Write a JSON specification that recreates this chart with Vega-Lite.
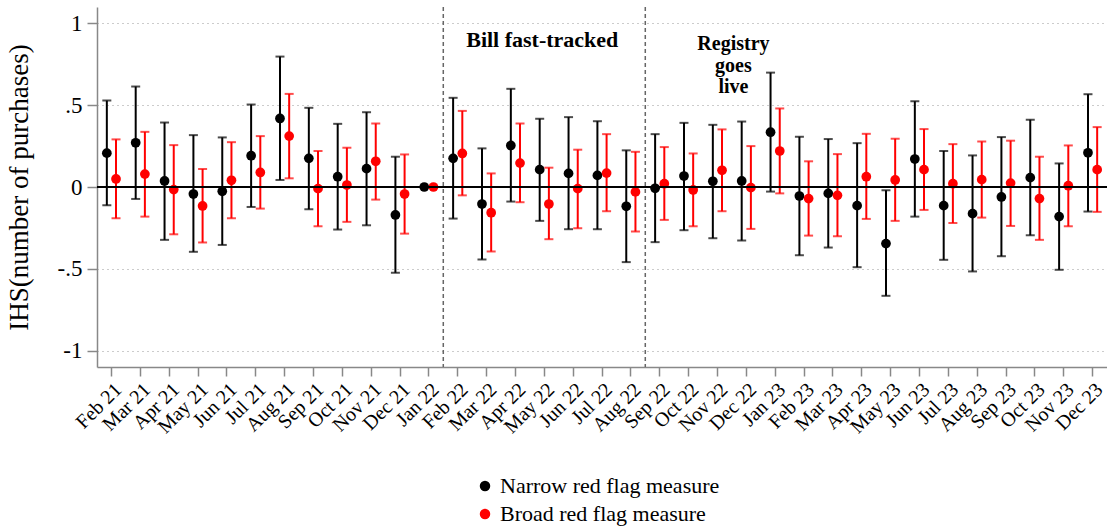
{
  "$schema": "https://vega.github.io/schema/vega-lite/v6.json",
  "width": 1010,
  "height": 360,
  "autosize": {"type": "none"},
  "padding": {"left": 97, "top": 7, "right": 0, "bottom": 162},
  "background": "white",
  "config": {"view": {"stroke": null}, "font": "Liberation Serif"},
  "datasets": {
    "est": [
      {"m": "Feb 21", "s": "Narrow red flag measure", "v": 0.207, "lo": -0.112, "hi": 0.528},
      {"m": "Feb 21", "s": "Broad red flag measure", "v": 0.049, "lo": -0.191, "hi": 0.291},
      {"m": "Mar 21", "s": "Narrow red flag measure", "v": 0.270, "lo": -0.073, "hi": 0.614},
      {"m": "Mar 21", "s": "Broad red flag measure", "v": 0.079, "lo": -0.181, "hi": 0.337},
      {"m": "Apr 21", "s": "Narrow red flag measure", "v": 0.037, "lo": -0.323, "hi": 0.394},
      {"m": "Apr 21", "s": "Broad red flag measure", "v": -0.016, "lo": -0.289, "hi": 0.256},
      {"m": "May 21", "s": "Narrow red flag measure", "v": -0.043, "lo": -0.396, "hi": 0.317},
      {"m": "May 21", "s": "Broad red flag measure", "v": -0.116, "lo": -0.339, "hi": 0.110},
      {"m": "Jun 21", "s": "Narrow red flag measure", "v": -0.026, "lo": -0.354, "hi": 0.303},
      {"m": "Jun 21", "s": "Broad red flag measure", "v": 0.041, "lo": -0.191, "hi": 0.274},
      {"m": "Jul 21", "s": "Narrow red flag measure", "v": 0.191, "lo": -0.122, "hi": 0.504},
      {"m": "Jul 21", "s": "Broad red flag measure", "v": 0.089, "lo": -0.132, "hi": 0.311},
      {"m": "Aug 21", "s": "Narrow red flag measure", "v": 0.419, "lo": 0.043, "hi": 0.797},
      {"m": "Aug 21", "s": "Broad red flag measure", "v": 0.311, "lo": 0.053, "hi": 0.569},
      {"m": "Sep 21", "s": "Narrow red flag measure", "v": 0.175, "lo": -0.136, "hi": 0.484},
      {"m": "Sep 21", "s": "Broad red flag measure", "v": -0.010, "lo": -0.240, "hi": 0.220},
      {"m": "Oct 21", "s": "Narrow red flag measure", "v": 0.063, "lo": -0.260, "hi": 0.386},
      {"m": "Oct 21", "s": "Broad red flag measure", "v": 0.012, "lo": -0.213, "hi": 0.240},
      {"m": "Nov 21", "s": "Narrow red flag measure", "v": 0.112, "lo": -0.234, "hi": 0.457},
      {"m": "Nov 21", "s": "Broad red flag measure", "v": 0.157, "lo": -0.077, "hi": 0.388},
      {"m": "Dec 21", "s": "Narrow red flag measure", "v": -0.171, "lo": -0.524, "hi": 0.185},
      {"m": "Dec 21", "s": "Broad red flag measure", "v": -0.043, "lo": -0.285, "hi": 0.199},
      {"m": "Jan 22", "s": "Narrow red flag measure", "v": 0, "lo": null, "hi": null},
      {"m": "Jan 22", "s": "Broad red flag measure", "v": 0, "lo": null, "hi": null},
      {"m": "Feb 22", "s": "Narrow red flag measure", "v": 0.175, "lo": -0.193, "hi": 0.545},
      {"m": "Feb 22", "s": "Broad red flag measure", "v": 0.205, "lo": -0.051, "hi": 0.465},
      {"m": "Mar 22", "s": "Narrow red flag measure", "v": -0.104, "lo": -0.443, "hi": 0.236},
      {"m": "Mar 22", "s": "Broad red flag measure", "v": -0.157, "lo": -0.394, "hi": 0.083},
      {"m": "Apr 22", "s": "Narrow red flag measure", "v": 0.254, "lo": -0.089, "hi": 0.600},
      {"m": "Apr 22", "s": "Broad red flag measure", "v": 0.146, "lo": -0.093, "hi": 0.388},
      {"m": "May 22", "s": "Narrow red flag measure", "v": 0.106, "lo": -0.207, "hi": 0.417},
      {"m": "May 22", "s": "Broad red flag measure", "v": -0.104, "lo": -0.319, "hi": 0.118},
      {"m": "Jun 22", "s": "Narrow red flag measure", "v": 0.083, "lo": -0.258, "hi": 0.427},
      {"m": "Jun 22", "s": "Broad red flag measure", "v": -0.010, "lo": -0.252, "hi": 0.228},
      {"m": "Jul 22", "s": "Narrow red flag measure", "v": 0.071, "lo": -0.258, "hi": 0.402},
      {"m": "Jul 22", "s": "Broad red flag measure", "v": 0.085, "lo": -0.148, "hi": 0.323},
      {"m": "Aug 22", "s": "Narrow red flag measure", "v": -0.118, "lo": -0.459, "hi": 0.224},
      {"m": "Aug 22", "s": "Broad red flag measure", "v": -0.030, "lo": -0.272, "hi": 0.215},
      {"m": "Sep 22", "s": "Narrow red flag measure", "v": -0.008, "lo": -0.337, "hi": 0.323},
      {"m": "Sep 22", "s": "Broad red flag measure", "v": 0.020, "lo": -0.201, "hi": 0.244},
      {"m": "Oct 22", "s": "Narrow red flag measure", "v": 0.067, "lo": -0.264, "hi": 0.392},
      {"m": "Oct 22", "s": "Broad red flag measure", "v": -0.018, "lo": -0.240, "hi": 0.205},
      {"m": "Nov 22", "s": "Narrow red flag measure", "v": 0.035, "lo": -0.313, "hi": 0.380},
      {"m": "Nov 22", "s": "Broad red flag measure", "v": 0.102, "lo": -0.148, "hi": 0.352},
      {"m": "Dec 22", "s": "Narrow red flag measure", "v": 0.037, "lo": -0.327, "hi": 0.400},
      {"m": "Dec 22", "s": "Broad red flag measure", "v": -0.004, "lo": -0.256, "hi": 0.250},
      {"m": "Jan 23", "s": "Narrow red flag measure", "v": 0.335, "lo": -0.028, "hi": 0.699},
      {"m": "Jan 23", "s": "Broad red flag measure", "v": 0.220, "lo": -0.039, "hi": 0.480},
      {"m": "Feb 23", "s": "Narrow red flag measure", "v": -0.055, "lo": -0.417, "hi": 0.307},
      {"m": "Feb 23", "s": "Broad red flag measure", "v": -0.071, "lo": -0.297, "hi": 0.157},
      {"m": "Mar 23", "s": "Narrow red flag measure", "v": -0.039, "lo": -0.370, "hi": 0.293},
      {"m": "Mar 23", "s": "Broad red flag measure", "v": -0.051, "lo": -0.301, "hi": 0.201},
      {"m": "Apr 23", "s": "Narrow red flag measure", "v": -0.114, "lo": -0.490, "hi": 0.268},
      {"m": "Apr 23", "s": "Broad red flag measure", "v": 0.063, "lo": -0.195, "hi": 0.325},
      {"m": "May 23", "s": "Narrow red flag measure", "v": -0.346, "lo": -0.665, "hi": -0.020},
      {"m": "May 23", "s": "Broad red flag measure", "v": 0.043, "lo": -0.207, "hi": 0.295},
      {"m": "Jun 23", "s": "Narrow red flag measure", "v": 0.171, "lo": -0.181, "hi": 0.524},
      {"m": "Jun 23", "s": "Broad red flag measure", "v": 0.106, "lo": -0.140, "hi": 0.354},
      {"m": "Jul 23", "s": "Narrow red flag measure", "v": -0.114, "lo": -0.445, "hi": 0.220},
      {"m": "Jul 23", "s": "Broad red flag measure", "v": 0.020, "lo": -0.220, "hi": 0.262},
      {"m": "Aug 23", "s": "Narrow red flag measure", "v": -0.163, "lo": -0.516, "hi": 0.193},
      {"m": "Aug 23", "s": "Broad red flag measure", "v": 0.045, "lo": -0.187, "hi": 0.278},
      {"m": "Sep 23", "s": "Narrow red flag measure", "v": -0.061, "lo": -0.423, "hi": 0.305},
      {"m": "Sep 23", "s": "Broad red flag measure", "v": 0.024, "lo": -0.238, "hi": 0.283},
      {"m": "Oct 23", "s": "Narrow red flag measure", "v": 0.057, "lo": -0.295, "hi": 0.411},
      {"m": "Oct 23", "s": "Broad red flag measure", "v": -0.071, "lo": -0.323, "hi": 0.185},
      {"m": "Nov 23", "s": "Narrow red flag measure", "v": -0.181, "lo": -0.506, "hi": 0.144},
      {"m": "Nov 23", "s": "Broad red flag measure", "v": 0.008, "lo": -0.240, "hi": 0.254},
      {"m": "Dec 23", "s": "Narrow red flag measure", "v": 0.209, "lo": -0.150, "hi": 0.567},
      {"m": "Dec 23", "s": "Broad red flag measure", "v": 0.106, "lo": -0.152, "hi": 0.366}
    ]
  },
  "data": {"name": "est"},
  "layer": [
    {
      "mark": {"type": "point", "filled": true, "shape": "circle", "size": 95, "opacity": 1},
      "encoding": {
        "x": {
          "field": "m", "type": "ordinal",
          "scale": {"domain": ["Feb 21","Mar 21","Apr 21","May 21","Jun 21","Jul 21","Aug 21","Sep 21","Oct 21","Nov 21","Dec 21","Jan 22","Feb 22","Mar 22","Apr 22","May 22","Jun 22","Jul 22","Aug 22","Sep 22","Oct 22","Nov 22","Dec 22","Jan 23","Feb 23","Mar 23","Apr 23","May 23","Jun 23","Jul 23","Aug 23","Sep 23","Oct 23","Nov 23","Dec 23"], "paddingInner": 0, "paddingOuter": 0},
          "axis": {"title": null, "labelAngle": -45, "labelFontSize": 20, "labelFont": "Liberation Serif", "labelColor": "black", "tickColor": "#888", "tickSize": 9, "tickWidth": 1.5, "domainColor": "#888", "domainWidth": 1.5, "labelPadding": 3, "grid": false, "labelOverlap": false}
        },
        "xOffset": {"field": "s", "type": "nominal", "scale": {"domain": ["Narrow red flag measure", "Broad red flag measure"], "paddingInner": 0, "paddingOuter": 0.57}},
        "y": {
          "field": "v", "type": "quantitative",
          "scale": {"domain": [-1.1, 1.1], "nice": false, "zero": false},
          "axis": {"title": "IHS(number of purchases)", "titleFont": "Liberation Serif", "titleFontSize": 27, "titleFontWeight": "normal", "titleColor": "black", "titlePadding": 24, "values": [-1, -0.5, 0, 0.5, 1], "labelExpr": "datum.value == 1 ? '1' : datum.value == 0.5 ? '.5' : datum.value == 0 ? '0' : datum.value == -0.5 ? '-.5' : '-1'", "labelFontSize": 23, "labelFont": "Liberation Serif", "labelColor": "black", "labelPadding": 5, "tickColor": "#888", "tickSize": 10, "tickWidth": 1.5, "domainColor": "#888", "domainWidth": 1.5, "grid": true, "gridDash": [1, 4], "gridColor": "#999", "gridWidth": 1}
        },
        "color": {
          "field": "s", "type": "nominal",
          "scale": {"domain": ["Narrow red flag measure", "Broad red flag measure"], "range": ["black", "red"]},
          "legend": {"title": null, "orient": "none", "legendX": 377, "legendY": 468, "direction": "vertical", "symbolType": "circle", "symbolSize": 110, "symbolStrokeWidth": 0, "labelFontSize": 22, "labelFont": "Liberation Serif", "labelColor": "black", "labelLimit": 0, "rowPadding": 6, "labelOffset": 4}
        }
      }
    },
    {
      "mark": {"type": "rule", "strokeWidth": 2},
      "encoding": {
        "x": {"field": "m", "type": "ordinal"},
        "xOffset": {"field": "s", "type": "nominal"},
        "y": {"field": "lo", "type": "quantitative"},
        "y2": {"field": "hi"},
        "color": {"field": "s", "type": "nominal"}
      }
    },
    {
      "mark": {"type": "tick", "thickness": 2, "size": 9, "orient": "horizontal"},
      "encoding": {
        "x": {"field": "m", "type": "ordinal"},
        "xOffset": {"field": "s", "type": "nominal"},
        "y": {"field": "lo", "type": "quantitative"},
        "color": {"field": "s", "type": "nominal"}
      }
    },
    {
      "mark": {"type": "tick", "thickness": 2, "size": 9, "orient": "horizontal"},
      "encoding": {
        "x": {"field": "m", "type": "ordinal"},
        "xOffset": {"field": "s", "type": "nominal"},
        "y": {"field": "hi", "type": "quantitative"},
        "color": {"field": "s", "type": "nominal"}
      }
    },
    {
      "data": {"values": [{"z": 0}]},
      "mark": {"type": "rule", "color": "black", "strokeWidth": 1.8},
      "encoding": {"y": {"field": "z", "type": "quantitative"}}
    },
    {
      "data": {"values": [{"m": "Jan 22"}, {"m": "Aug 22"}]},
      "mark": {"type": "rule", "color": "#666", "strokeDash": [4, 3], "strokeWidth": 1.5},
      "encoding": {"x": {"field": "m", "type": "ordinal", "bandPosition": 1}}
    },
    {
      "data": {"values": [{"m": "May 22", "y": 0.856, "t": "Bill fast-tracked"}]},
      "mark": {"type": "text", "font": "Liberation Serif", "fontWeight": "bold", "fontSize": 22, "baseline": "alphabetic", "align": "center", "dx": -2, "color": "black"},
      "encoding": {"x": {"field": "m", "type": "ordinal"}, "y": {"field": "y", "type": "quantitative"}, "text": {"field": "t"}}
    },
    {
      "data": {"values": [{"m": "Nov 22", "y": 0.837, "t": "Registry\ngoes\nlive"}]},
      "mark": {"type": "text", "font": "Liberation Serif", "fontWeight": "bold", "fontSize": 20, "baseline": "alphabetic", "align": "center", "dx": 16, "lineBreak": "\n", "lineHeight": 21.5, "color": "black"},
      "encoding": {"x": {"field": "m", "type": "ordinal"}, "y": {"field": "y", "type": "quantitative"}, "text": {"field": "t"}}
    }
  ]
}
